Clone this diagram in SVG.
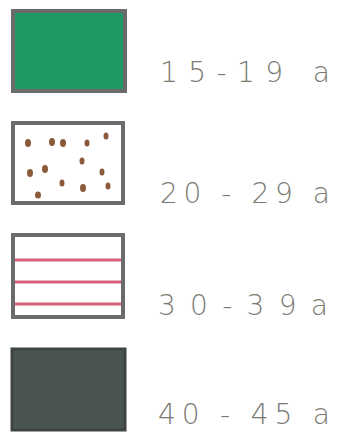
<svg xmlns="http://www.w3.org/2000/svg" width="342" height="434" viewBox="0 0 342 434">
<style>
.frame{fill:none;stroke:#6b6b6b;stroke-width:4}
.lbl{font-family:"DejaVu Sans","Liberation Sans",sans-serif;font-size:28px;font-weight:200;fill:#7a7a72}
.dot{fill:#8a5a3a}
.stripe{stroke:#d8607a;stroke-width:3}
</style>
<rect width="342" height="434" fill="#ffffff"/>
<g id="item1">
<rect x="13" y="11" width="112" height="80" fill="#1f9a62"/>
<rect x="13" y="11" width="112" height="80" class="frame"/>
<text class="lbl" x="160" y="82" textLength="170" lengthAdjust="spacing">15-19 a</text>
</g>
<g id="item2">
<rect x="13" y="123" width="110" height="80" fill="#ffffff"/>
<ellipse class="dot" cx="28" cy="143" rx="3" ry="4"/>
<ellipse class="dot" cx="52" cy="142" rx="3" ry="4"/>
<ellipse class="dot" cx="63" cy="143" rx="3" ry="4"/>
<ellipse class="dot" cx="87" cy="143" rx="2.5" ry="3.5"/>
<ellipse class="dot" cx="106" cy="136" rx="2.5" ry="3.5"/>
<ellipse class="dot" cx="82" cy="161" rx="2.5" ry="3.5"/>
<ellipse class="dot" cx="102" cy="172" rx="2.5" ry="3.5"/>
<ellipse class="dot" cx="30" cy="173" rx="3" ry="4"/>
<ellipse class="dot" cx="45" cy="169" rx="3" ry="4"/>
<ellipse class="dot" cx="62" cy="183" rx="2.5" ry="3.5"/>
<ellipse class="dot" cx="83" cy="188" rx="3" ry="4"/>
<ellipse class="dot" cx="108" cy="186" rx="2.5" ry="3.5"/>
<ellipse class="dot" cx="38" cy="195" rx="3" ry="3.5"/>
<rect x="13" y="123" width="110" height="80" class="frame"/>
<text class="lbl" x="160" y="203" textLength="170" lengthAdjust="spacing">20 - 29 a</text>
</g>
<g id="item3">
<line class="stripe" x1="15" y1="260" x2="121" y2="260"/>
<line class="stripe" x1="15" y1="282" x2="121" y2="282"/>
<line class="stripe" x1="15" y1="304" x2="121" y2="304"/>
<rect x="13" y="235" width="110" height="82" class="frame"/>
<text class="lbl" x="158" y="315" textLength="170" lengthAdjust="spacing">30-39a</text>
</g>
<g id="item4">
<rect x="12" y="349" width="113" height="81" fill="#4a5450"/>
<rect x="12" y="349" width="113" height="81" fill="none" stroke="#3e4542" stroke-width="3"/>
<text class="lbl" x="158" y="424" textLength="172" lengthAdjust="spacing">40 - 45 a</text>
</g>
</svg>
